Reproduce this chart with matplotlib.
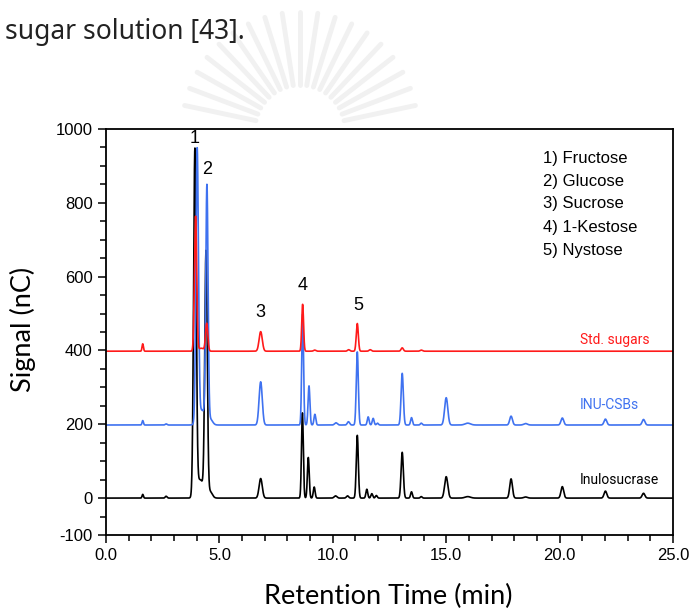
import numpy as np
import matplotlib
matplotlib.use('Agg')
import matplotlib.pyplot as plt
from matplotlib.lines import Line2D
from matplotlib.ticker import MultipleLocator, FormatStrFormatter

plt.rcParams['axes.unicode_minus'] = False

# Peak tables: retention time (min), height (nC), width (min)
BLACK_BASE = 0
BLACK_RT = [1.62, 2.65, 3.92, 4.15, 4.41, 4.58, 6.82, 8.66, 8.92, 9.18, 10.12, 10.65,
            11.08, 11.50, 11.72, 11.92, 13.06, 13.47, 13.90, 15.00, 15.95, 17.86,
            18.50, 20.12, 22.02, 23.70]
BLACK_H = [10, 5, 933, 50, 656, 18, 53, 231, 110, 30, 6, 6,
           170, 24, 12, 7, 124, 17, 4, 58, 4, 52,
           3, 31, 19, 13]
BLACK_W = [0.03, 0.04, 0.058, 0.15, 0.055, 0.10, 0.07, 0.04, 0.04, 0.04, 0.06, 0.05,
           0.045, 0.04, 0.04, 0.04, 0.05, 0.04, 0.04, 0.07, 0.12, 0.06,
           0.08, 0.06, 0.06, 0.06]

BLUE_BASE = 198
BLUE_RT = [1.62, 2.65, 4.02, 4.22, 4.45, 4.60, 6.82, 8.67, 8.95, 9.21, 10.14, 10.69,
           11.08, 11.56, 11.78, 11.97, 13.06, 13.47, 13.90, 15.00, 15.95, 17.86,
           18.50, 20.12, 22.02, 23.70]
BLUE_H = [12, 3, 735, 40, 635, 15, 117, 300, 106, 29, 6, 9,
          198, 22, 18, 5, 140, 20, 5, 74, 5, 24,
          4, 19, 16, 15]
BLUE_W = [0.03, 0.04, 0.055, 0.15, 0.05, 0.10, 0.07, 0.04, 0.04, 0.04, 0.06, 0.05,
          0.045, 0.04, 0.04, 0.04, 0.05, 0.04, 0.04, 0.07, 0.12, 0.06,
          0.08, 0.06, 0.06, 0.06]

RED_BASE = 398
RED_RT = [1.62, 3.95, 4.20, 4.44, 6.82, 8.67, 9.20, 10.70, 11.08, 11.65, 13.06, 13.90]
RED_H = [20, 365, 8, 75, 53, 127, 3, 4, 75, 4, 9, 3]
RED_W = [0.03, 0.05, 0.12, 0.05, 0.07, 0.04, 0.05, 0.05, 0.045, 0.05, 0.05, 0.05]

PEAK_NUMS = ['1', '2', '3', '4', '5']
PEAK_NUM_X = [3.92, 4.47, 6.82, 8.66, 11.13]
PEAK_NUM_Y = [975, 891, 503, 575, 523]

SUGARS = ['1) Fructose', '2) Glucose', '3) Sucrose', '4) 1-Kestose', '5) Nystose']
SUGAR_Y = [921, 857, 797, 734, 672]

TRACE_NAMES = ['Std. sugars', 'INU-CSBs', 'Inulosucrase']
TRACE_NAME_Y = [428, 252, 49]

RED = '#ff1a1a'
BLUE = '#3f72f0'


def trace(t, base, rt, h, w):
    y = np.full_like(t, float(base))
    for r, a, s in zip(rt, h, w):
        y += a * np.exp(-0.5 * ((t - r) / s) ** 2)
    return y


t = np.linspace(0, 25, 6001)

fig = plt.figure(figsize=(6.92, 6.08), dpi=100)
W, H = 692, 608

# faint watermark fan behind the header
cx, cy = 300, 130
for ang in np.linspace(12, 168, 19):
    a = np.deg2rad(ang)
    r0, r1 = 45, 118
    xs = [(cx + r0 * np.cos(a)) / W, (cx + r1 * np.cos(a)) / W]
    ys = [1 - (cy - r0 * np.sin(a)) / H, 1 - (cy - r1 * np.sin(a)) / H]
    fig.add_artist(Line2D(xs, ys, color='#f1f1f1', lw=3.5, solid_capstyle='round', zorder=0))

fig.text(5 / W, 1 - 32 / H, 'sugar solution [43].', fontsize=19, family='Noto Sans',
         va='center', ha='left', color='#222222')

ax = fig.add_axes([106 / W, 1 - 535 / H, (673 - 106) / W, (535 - 129) / H])

ax.plot(t, trace(t, BLACK_BASE, BLACK_RT, BLACK_H, BLACK_W), color='black', lw=1.2)
ax.plot(t, trace(t, BLUE_BASE, BLUE_RT, BLUE_H, BLUE_W), color=BLUE, lw=1.2)
ax.plot(t, trace(t, RED_BASE, RED_RT, RED_H, RED_W), color=RED, lw=1.2)

ax.set_xlim(0, 25)
ax.set_ylim(-100, 1000)
ax.set_yticks([-100, 0, 200, 400, 600, 800, 1000])
ax.yaxis.set_minor_locator(MultipleLocator(50))
ax.xaxis.set_major_locator(MultipleLocator(5))
ax.xaxis.set_minor_locator(MultipleLocator(1))
ax.xaxis.set_major_formatter(FormatStrFormatter('%.1f'))
ax.tick_params(which='both', direction='out', top=False, right=False,
               labelsize=12, width=1.1)
ax.tick_params(which='major', length=6)
ax.tick_params(which='minor', length=4)
for lab in ax.get_xticklabels() + ax.get_yticklabels():
    lab.set_family('Liberation Sans')
for sp in ax.spines.values():
    sp.set_linewidth(1.3)

for s, x, y in zip(PEAK_NUMS, PEAK_NUM_X, PEAK_NUM_Y):
    ax.text(x, y, s, fontsize=13, family='Liberation Sans', ha='center', va='center')

for i, s in enumerate(SUGARS):
    ax.text(19.25, SUGAR_Y[i], s, fontsize=12, family='Liberation Sans', ha='left', va='center')

for s, y, c in zip(TRACE_NAMES, TRACE_NAME_Y, [RED, BLUE, 'black']):
    ax.text(20.9, y, s, fontsize=10, family='Roboto', color=c, ha='left', va='center')

fig.text(388 / W, 1 - 596 / H, 'Retention Time (min)', fontsize=19.5, family='Lato',
         ha='center', va='center')
fig.text(23 / W, 1 - 329 / H, 'Signal (nC)', fontsize=19.5, family='Lato',
         ha='center', va='center', rotation=90)

fig.savefig('out.png', dpi=100)
